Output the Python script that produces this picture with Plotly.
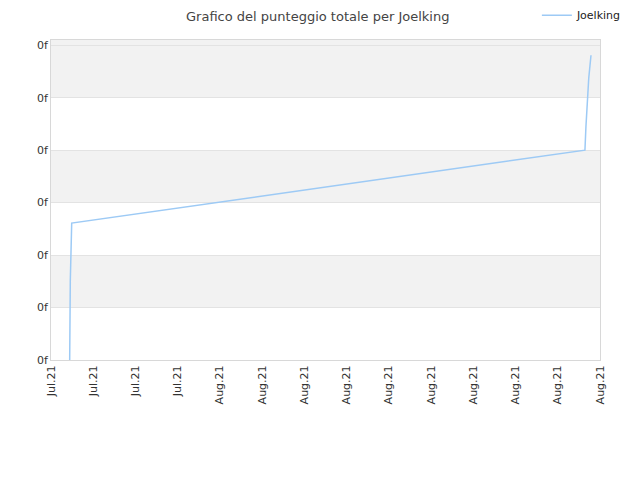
import plotly.graph_objects as go

# data
dates = ["2021-07-21 07:52", "2021-07-21 07:52", "2021-07-21 08:53", "2021-07-21 11:17",
         "2021-08-26 22:19", "2021-08-27 00:00", "2021-08-27 02:24", "2021-08-27 04:48",
         "2021-08-27 08:38"]
values = [0.0, 0.59, 1.50, 2.61, 4.00, 4.44, 5.01, 5.37, 5.81]
series_name = "Joelking"
y_ticks = [0, 1, 2, 3, 4, 5, 6]
y_tick_text = ["0f"] * 7
x_range = ["2021-07-20", "2021-08-28"]

fig = go.Figure()
fig.add_trace(go.Scatter(x=dates, y=values, mode="lines", name=series_name,
                         line=dict(color="#9dcaf5", width=1.5)))

band_color = "#f2f2f2"
for lo, hi in [(1, 2), (3, 4), (5, 6.1)]:
    fig.add_shape(type="rect", xref="paper", yref="y", x0=0, x1=1, y0=lo, y1=hi,
                  fillcolor=band_color, line_width=0, layer="below")

fig.update_layout(
    width=640, height=480,
    paper_bgcolor="white", plot_bgcolor="white",
    font=dict(family="DejaVu Sans", size=11, color="#333333"),
    title=dict(text="Grafico del punteggio totale per Joelking",
               xref="container", yref="container", x=0.484, xanchor="center",
               y=0.992, yanchor="top", pad=dict(t=0, b=0),
               font=dict(size=13, color="#444444")),
    margin=dict(l=43, r=48, t=32, b=128, autoexpand=False),
    showlegend=True,
    legend=dict(xref="container", yref="container", x=0.967, xanchor="right",
                y=0.985, yanchor="middle",
                font=dict(size=11, color="#222222"), bgcolor="rgba(0,0,0,0)",
                itemwidth=30),
    xaxis=dict(type="date", range=x_range, dtick=3 * 86400000, tick0="2021-07-20",
               tickformat="%b.%y", tickangle=-90, showgrid=False, automargin=False,
               showline=True, linecolor="#d8d8d8", mirror=True, ticks="",
               tickfont=dict(size=11, color="#333333")),
    yaxis=dict(range=[0, 6.1], tickmode="array", tickvals=y_ticks, ticktext=y_tick_text,
               showgrid=True, gridcolor="#e3e3e3", zeroline=False, automargin=False,
               showline=True, linecolor="#d8d8d8", mirror=True, ticks="",
               tickfont=dict(size=11, color="#333333")),
)

fig.write_html("out.html")
